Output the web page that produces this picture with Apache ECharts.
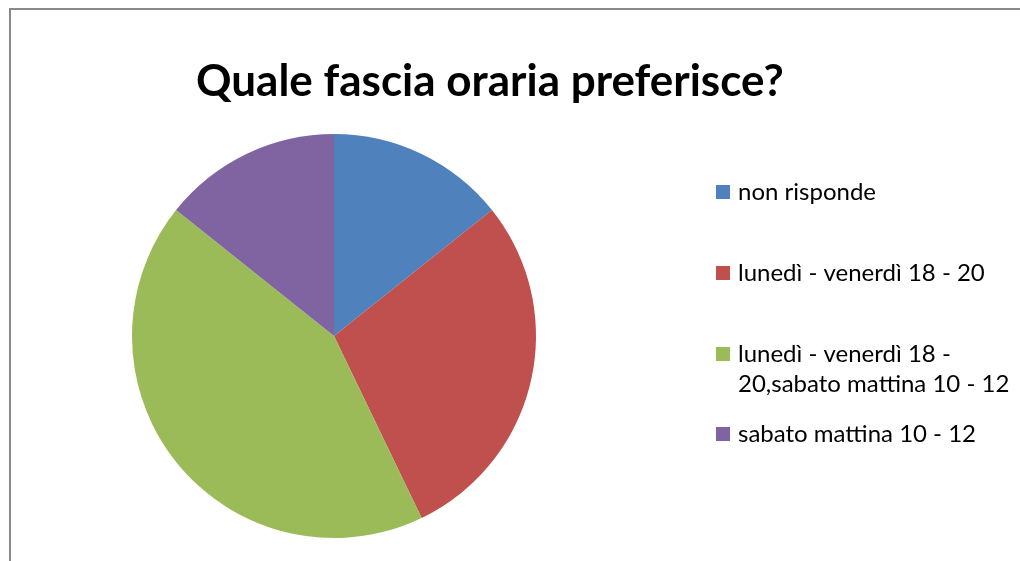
<!DOCTYPE html>
<html>
<head>
<meta charset="utf-8">
<script src="https://cdn.jsdelivr.net/npm/echarts@6/dist/echarts.min.js"></script>
<style>
html,body{margin:0;padding:0;background:#fff;}
#chart{width:1020px;height:561px;}
</style>
</head>
<body>
<div id="chart"></div>
<script>
const titleText = 'Quale fascia oraria preferisce?';
const categories = ['non risponde', 'lunedì - venerdì 18 - 20', 'lunedì - venerdì 18 - 20,sabato mattina 10 - 12', 'sabato mattina 10 - 12'];
const legendLabels = ['non risponde', 'lunedì - venerdì 18 - 20', ' \nlunedì - venerdì 18 -\n20,sabato mattina 10 - 12', 'sabato mattina 10 - 12'];
const values = [1, 2, 3, 1];
const colors = ['#4F81BD', '#C0504D', '#9BBB59', '#8064A2'];

const FONT = 'Lato, "Open Sans", sans-serif';
const LH = 30;
const legendCenters = [192, 273, 354, 434];

const chart = echarts.init(document.getElementById('chart'));
const legends = categories.map((name, i) => {
  const lines = legendLabels[i].split('\n').length;
  return {
    orient: 'vertical',
    left: 716,
    top: legendCenters[i] - lines * LH / 2,
    padding: 0,
    itemWidth: 14,
    itemHeight: 14,
    itemGap: 0,
    icon: 'rect',
    selectedMode: false,
    data: [name],
    formatter: () => legendLabels[i],
    textStyle: {
      fontFamily: FONT,
      fontSize: 24,
      color: '#000',
      lineHeight: LH,
      padding: [0, 0, 0, 3]
    }
  };
});

chart.setOption({
  animation: false,
  color: colors,
  title: {
    text: titleText,
    left: 196,
    top: 60,
    padding: 0,
    textStyle: { fontFamily: FONT, fontSize: 44, fontWeight: 'bold', color: '#000' }
  },
  legend: legends,
  graphic: [{
    type: 'rect',
    shape: { x: 10, y: 9, width: 1100, height: 700 },
    style: { fill: 'none', stroke: '#898989', lineWidth: 2 },
    silent: true
  }],
  series: [{
    type: 'pie',
    center: [334, 336],
    radius: 202,
    startAngle: 90,
    clockwise: true,
    label: { show: false },
    labelLine: { show: false },
    itemStyle: { borderWidth: 0 },
    emphasis: { disabled: true },
    data: categories.map((n, i) => ({ name: n, value: values[i] }))
  }]
});
</script>
</body>
</html>
